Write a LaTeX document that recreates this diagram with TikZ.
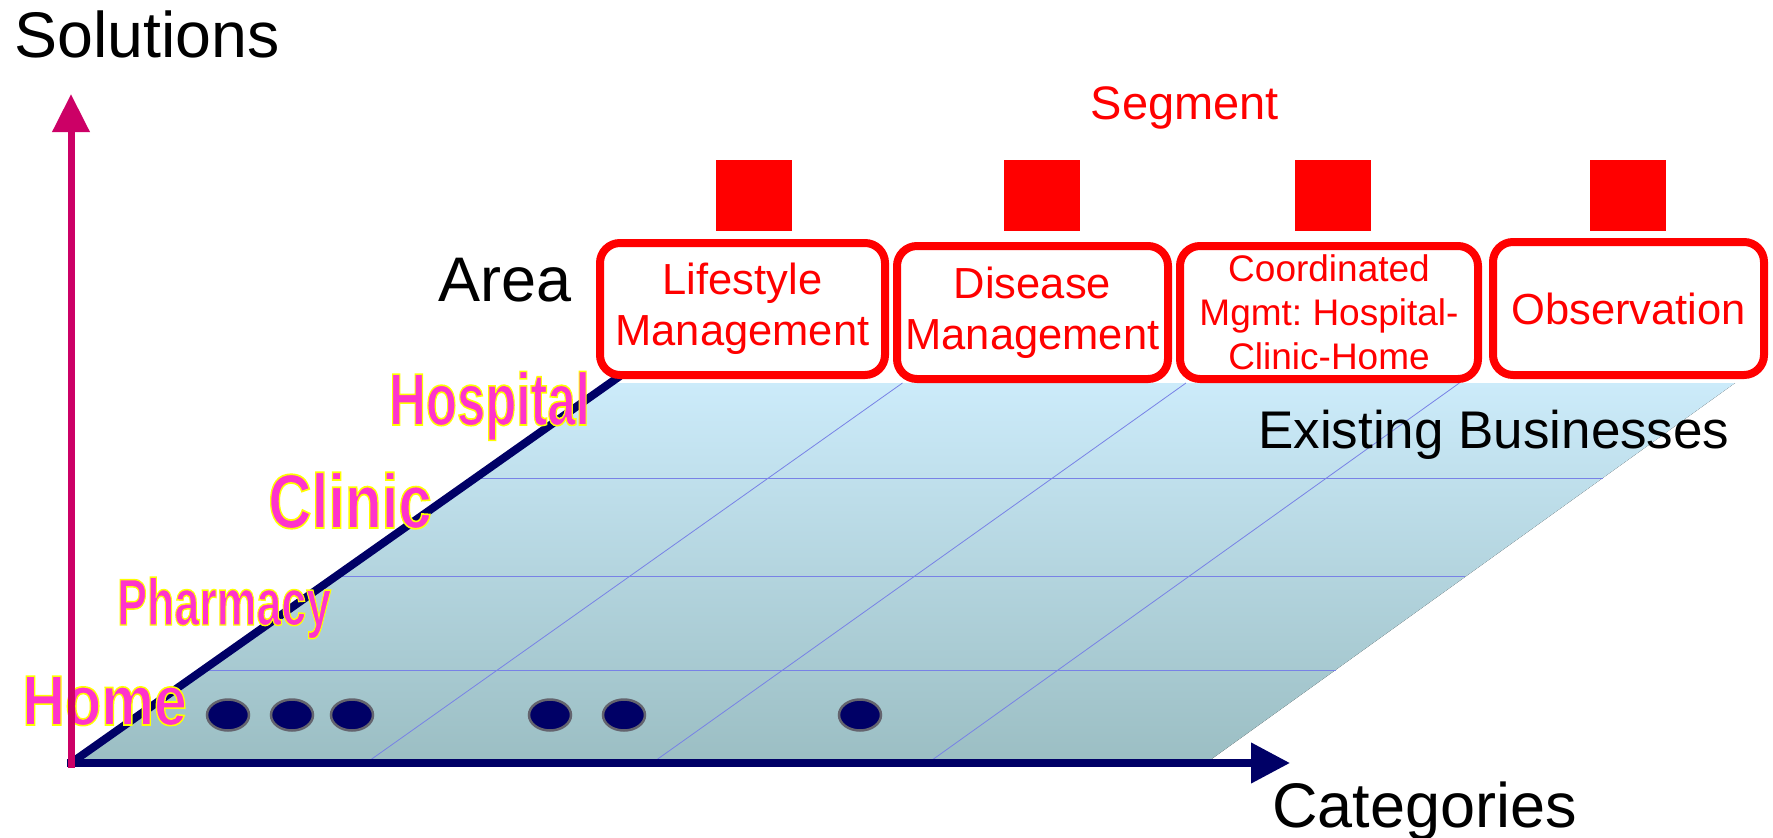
\documentclass[tikz,border=0pt]{standalone}
\usepackage{fontspec}
\setmainfont{Liberation Sans}
\newfontfamily\rimfont[FakeBold=2.2]{Liberation Sans Bold}
\usepackage{graphicx}
\usetikzlibrary{arrows.meta,calc,shapes.geometric}

\definecolor{navy}{RGB}{0,0,102}
\definecolor{axispink}{RGB}{204,0,102}
\definecolor{planetop}{RGB}{204,235,250}
\definecolor{planebot}{RGB}{155,190,195}
\definecolor{gridblue}{RGB}{120,130,230}
\definecolor{dotrim}{RGB}{100,100,110}

% magenta level label with a yellow rim (fill magenta, stroke yellow), condensed horizontally
\newcommand{\levellabel}[3]{\scalebox{#2}[1]{\special{pdf:bcolor [1 0.2 0.8] [1 1 0]}\rimfont\fontsize{#1}{#1}\selectfont #3\special{pdf:ecolor}}}

\tikzset{
  gridline/.style={gridblue, line width=0.8pt},
  dotmark/.style={ellipse, minimum width=42pt, minimum height=31pt, inner sep=0pt,
                  fill=navy, draw=dotrim, line width=2.5pt},
  areabox/.style={draw=red, line width=8pt, rounded corners=20pt, fill=white,
                  text=red, align=center, inner sep=0pt},
  segbox/.style={fill=red, minimum width=76pt, minimum height=71pt, inner sep=0pt},
  bigtext/.style={inner sep=0pt, anchor=base west},
}

\begin{document}
\frenchspacing
\begin{tikzpicture}[x=1pt,y=-1pt]
\useasboundingbox (0,0) rectangle (1773,838);

% corners of the category/solution plane
\coordinate (O)  at (71,763);
\coordinate (Pb) at (1206,763);
\coordinate (Pt) at (1735,383);
\coordinate (Pl) at (610,383);

% shaded plane
\fill[top color=planetop, bottom color=planebot] (O) -- (Pb) -- (Pt) -- (Pl) -- cycle;

% grid rows
\foreach \t in {0.245,0.49,0.75}
  \draw[gridline] ($(O)!\t!(Pl)$) -- ($(Pb)!\t!(Pt)$);
% grid columns
\foreach \t in {0.26,0.512,0.755}
  \draw[gridline] ($(O)!\t!(Pb)$) -- ($(Pl)!\t!(Pt)$);

% existing businesses on the home row
\node[dotmark] (d1) at (228,715) {};
\node[dotmark] (d2) at (292,715) {};
\node[dotmark] (d3) at (352,715) {};
\node[dotmark] (d4) at (550,715) {};
\node[dotmark] (d5) at (624,715) {};
\node[dotmark] (d6) at (860,715) {};

% plane axes
\coordinate (diagEnd) at (620,376);
\coordinate (catEnd)  at (1290,763);
\coordinate (solStart) at (71,768);
\coordinate (solEnd)  at (71,94);
\coordinate (catStart) at (67,763);
\draw[navy, line width=8pt] (O) -- (diagEnd);
\draw[navy, line width=7.5pt, -{Triangle[length=39pt,width=39pt]}] (catStart) -- (catEnd);

% axis titles
\node[bigtext, font=\fontsize{64.5}{70}\selectfont] (solutions) at (14,57) {Solutions};
\node[bigtext, font=\fontsize{63}{70}\selectfont] (categories) at (1272,827) {Categories};
\node[bigtext, font=\fontsize{63}{70}\selectfont] (area) at (438,301) {Area};
\node[inner sep=0pt, anchor=base, text=red, font=\fontsize{47}{55}\selectfont] (segment) at (1185,119) {Segment};
\node[bigtext, font=\fontsize{53}{60}\selectfont] (existing) at (1258,448) {Existing Businesses};

% segment markers
\node[segbox] (sq1) at (754,195.5) {};
\node[segbox] (sq2) at (1042,195.5) {};
\node[segbox] (sq3) at (1333,195.5) {};
\node[segbox] (sq4) at (1628,195.5) {};

% area boxes
\node[areabox, minimum width=285pt, minimum height=132pt, font=\fontsize{43.5}{51}\selectfont]
  (life) at (742.5,309) {Lifestyle\\Management};
\node[areabox, minimum width=271pt, minimum height=133pt, font=\fontsize{43.5}{51}\selectfont]
  (disease) at (1032.5,312.5) {Disease\\Management};
\node[areabox, minimum width=298pt, minimum height=133pt, font=\fontsize{37}{44}\selectfont]
  (coord) at (1329,312.5) {Coordinated\\Mgmt: Hospital-\\Clinic-Home};
\node[areabox, minimum width=271pt, minimum height=133pt, font=\fontsize{43.5}{51}\selectfont]
  (obs) at (1628.5,308.5) {Observation};

% solution levels
\node[bigtext] (hospital) at (389,425) {\levellabel{74}{0.687}{Hospital}};
\node[bigtext] (clinic)   at (268,528) {\levellabel{77}{0.78}{Clinic}};
\node[bigtext] (pharmacy) at (117,625) {\levellabel{66}{0.678}{Pharmacy}};
\node[bigtext] (home)     at (22,725)  {\levellabel{71}{0.835}{Home}};

% solutions axis, above the level labels
\draw[axispink, line width=7pt, -{Triangle[length=38pt,width=36pt]}] (solStart) -- (solEnd);
\end{tikzpicture}
\end{document}
